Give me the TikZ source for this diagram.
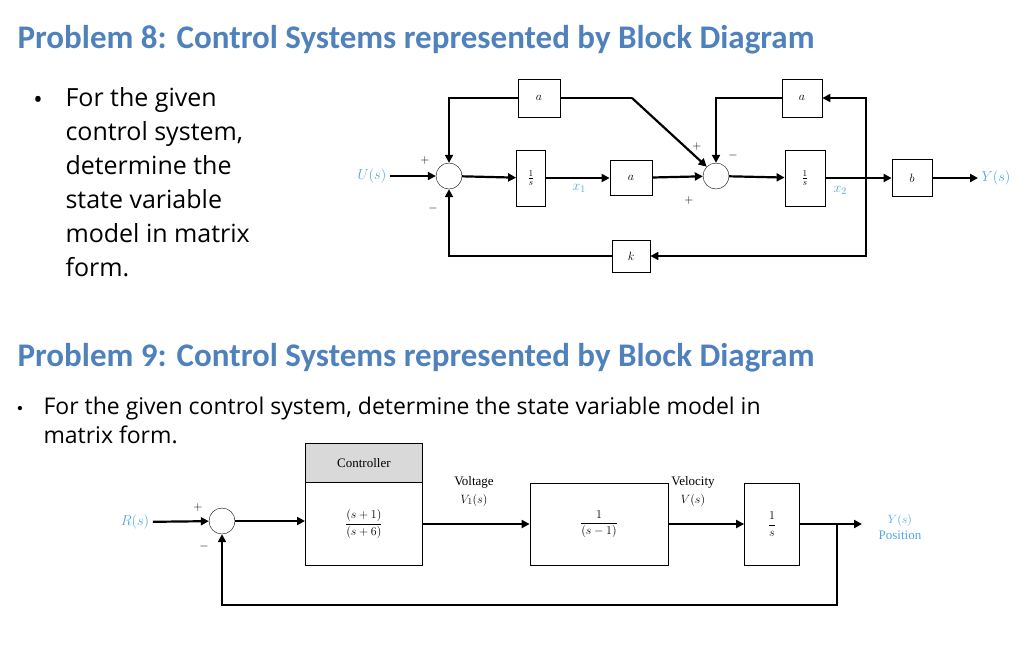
\documentclass[tikz,border=0pt]{standalone}
\usepackage{amsmath}
\usepackage{fontspec}
\setmainfont{Liberation Serif}
\newfontfamily\ttl{Carlito}
\newfontfamily\bod{Open Sans}
\usetikzlibrary{arrows.meta}
\definecolor{ttlblue}{RGB}{79,129,189}
\definecolor{lblue}{RGB}{77,166,232}
\begin{document}
\begin{tikzpicture}[x=1pt,y=-1pt,
 blk/.style={draw,thick,fill=white,inner sep=0pt,font=\fontsize{13}{14}\selectfont\itshape},
 sum/.style={draw,circle,minimum size=26pt,inner sep=0pt,fill=white},
 sig/.style={line width=2.2pt,-{Triangle[length=8pt,width=8pt]}},
 ln/.style={line width=2.2pt},
 lbl/.style={text=lblue,font=\fontsize{14}{15}\selectfont},
 sg/.style={font=\fontsize{13}{14}\selectfont}]
\useasboundingbox (0,0) rectangle (1024,657);
% titles
\node[anchor=west,text=ttlblue,font=\ttl\bfseries\fontsize{33}{36}\selectfont] (t8) at (14,40) {Problem 8: Control Systems represented by Block Diagram};
\node[anchor=west,text=ttlblue,font=\ttl\bfseries\fontsize{33}{36}\selectfont] (t9) at (14,358) {Problem 9: Control Systems represented by Block Diagram};
\node[anchor=north west,align=left,font=\bod\fontsize{25}{34}\selectfont] (b8) at (62,84) {For the given\\control system,\\determine the\\state variable\\model in matrix\\form.};
\node[font=\bod\fontsize{25}{34}\selectfont] (d8) at (38,102) {•};
\node[anchor=north west,align=left,font=\bod\fontsize{23}{29}\selectfont] (b9) at (40,393) {For the given control system, determine the state variable model in\\matrix form.};
\node[font=\fontsize{18}{20}\selectfont] (d9) at (20,410) {•};
% ---------- Problem 8
\node[lbl] (U) at (372,176) {$U(s)$};
\node[sum] (s1) at (449,176) {};
\node[blk,minimum width=29pt,minimum height=56pt] (i1) at (531,178) {$\frac{1}{s}$};
\node[blk,minimum width=42pt,minimum height=35pt] (am) at (631,178) {$a$};
\node[sum] (s2) at (716,176) {};
\node[blk,minimum width=40pt,minimum height=56pt] (i2) at (805,178) {$\frac{1}{s}$};
\node[blk,minimum width=40pt,minimum height=37pt] (bb) at (912,178) {$b$};
\node[lbl] (Y) at (996,178) {$Y(s)$};
\node[blk,minimum width=42pt,minimum height=38pt] (a1) at (539,98) {$a$};
\node[blk,minimum width=40pt,minimum height=38pt] (a2) at (802,98) {$a$};
\node[blk,minimum width=38pt,minimum height=32pt] (kk) at (631,256) {$k$};
\coordinate (br) at (866,178);
\coordinate (bend) at (632,98);
\node[lbl] (x1) at (579,188) {$x_1$};
\node[lbl] (x2) at (840,190) {$x_2$};
\draw[sig] (U) -- (s1);
\draw[sig] (s1) -- (i1);
\draw[sig] (i1) -- (am);
\draw[sig] (am) -- (s2);
\draw[sig] (s2) -- (i2);
\draw[ln] (i2.east) -- (br);
\draw[sig] (br) -- (bb);
\draw[sig] (bb) -- (Y);
\draw[sig] (br) |- (a2);
\draw[sig] (br) |- (kk);
\draw[sig] (kk) -| (s1);
\draw[sig] (a1) -| (s1);
\draw[sig] (a2) -| (s2);
\draw[ln] (a1.east) -- (bend);
\draw[sig] (bend) -- (s2.north west);
\node[sg] (p1) at (425,160) {$+$};
\node[sg] (m1) at (433,208) {$-$};
\node[sg] (p2) at (697,146) {$+$};
\node[sg] (m2) at (733,155) {$-$};
\node[sg] (p3) at (689,200) {$+$};
% ---------- Problem 9
\node[lbl] (R) at (135,522) {$R(s)$};
\node[sum] (s3) at (222,521) {};
\node[draw,thick,fill=black!15,minimum width=117pt,minimum height=39pt,anchor=north west,font=\fontsize{13}{14}\selectfont] (ch) at (305,443) {Controller};
\node[draw,thick,minimum width=117pt,minimum height=83pt,anchor=north west,font=\fontsize{13}{14}\selectfont] (cb) at (305,482) {$\dfrac{(s+1)}{(s+6)}$};
\node[draw,thick,minimum width=138pt,minimum height=82pt,font=\fontsize{13}{14}\selectfont] (pl) at (599,524) {$\dfrac{1}{(s-1)}$};
\node[draw,thick,minimum width=55pt,minimum height=82pt,font=\fontsize{13}{14}\selectfont] (in) at (772,524) {$\dfrac{1}{s}$};
\coordinate (br2) at (837,524);
\node[text=lblue,align=center,font=\fontsize{13}{16}\selectfont] (Yo) at (900,527) {$Y(s)$\\Position};
\node[align=center,font=\fontsize{13}{18}\selectfont] (vl) at (474,491) {Voltage\\$V_1(s)$};
\node[align=center,font=\fontsize{13}{18}\selectfont] (ve) at (693,491) {Velocity\\$V(s)$};
\draw[sig] (R) -- (s3);
\draw[sig] (s3) -- (cb.west |- s3);
\draw[sig] (cb.east |- pl) -- (pl);
\draw[sig] (pl) -- (in);
\draw[ln] (in.east) -- (br2);
\draw[sig] (br2) -- (862,524);
\draw[sig] (br2) -- (837,605) -| (s3);
\node[sg] (p4) at (198,507) {$+$};
\node[sg] (m4) at (204,546) {$-$};
\end{tikzpicture}
\end{document}
